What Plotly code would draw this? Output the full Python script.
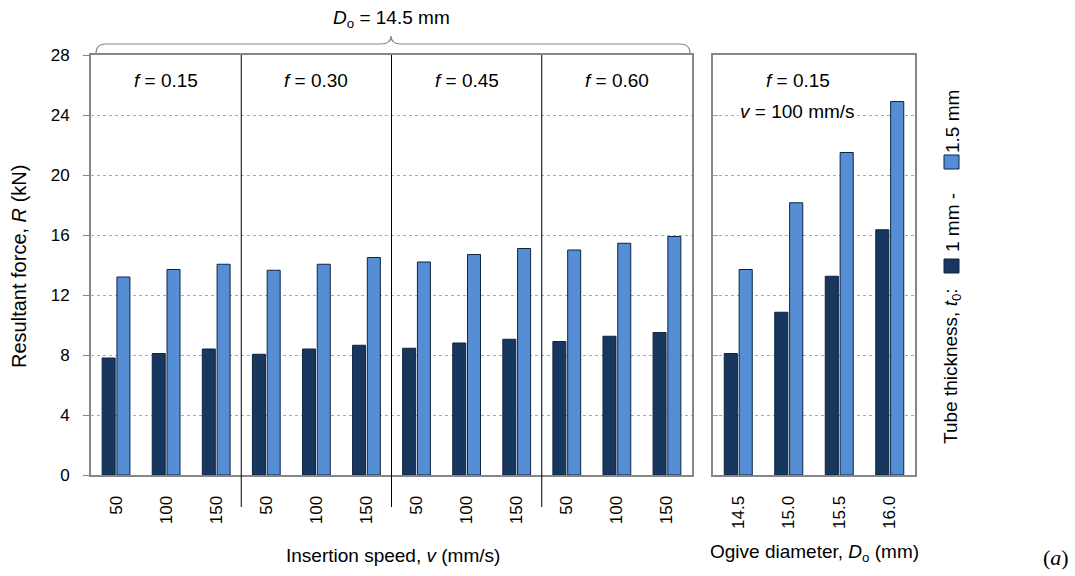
import plotly.graph_objects as go

# ---- data ----
speeds = ["50", "100", "150"]
frictions = ["0.15", "0.30", "0.45", "0.60"]
r_1mm_speed = [7.8, 8.1, 8.4, 8.05, 8.4, 8.65, 8.45, 8.8, 9.05, 8.9, 9.25, 9.5]
r_15mm_speed = [13.2, 13.7, 14.05, 13.65, 14.05, 14.5, 14.2, 14.7, 15.1, 15.0, 15.45, 15.9]

diameters = ["14.5", "15.0", "15.5", "16.0"]
r_1mm_diam = [8.1, 10.85, 13.25, 16.35]
r_15mm_diam = [13.7, 18.15, 21.5, 24.9]

DARK = "#17375E"
LIGHT = "#558ED5"
EDGE = "#0F2440"
AXIS = "#868686"
FONT = "Liberation Sans, Arial, sans-serif"

# plot area in pixels (1075x576 page)
L, R, T, B = 91, 915, 55, 475
W, H = R - L, B - T


def px(x):
    return (x - L) / W


def py(y):
    return (B - y) / H


speed_x = list(range(len(frictions) * len(speeds)))
diam_x = list(range(len(diameters)))

fig = go.Figure()

for vals, col, name in [(r_1mm_speed, DARK, "1 mm"), (r_15mm_speed, LIGHT, "1.5 mm")]:
    fig.add_trace(go.Bar(
        x=speed_x, y=vals, name=name, marker=dict(color=col, line=dict(color=EDGE, width=1)),
        xaxis="x", yaxis="y", showlegend=False,
    ))
for vals, col, name in [(r_1mm_diam, DARK, "1 mm"), (r_15mm_diam, LIGHT, "1.5 mm")]:
    fig.add_trace(go.Bar(
        x=diam_x, y=vals, name=name, marker=dict(color=col, line=dict(color=EDGE, width=1)),
        xaxis="x2", yaxis="y2", showlegend=False,
    ))

tickfont = dict(family=FONT, size=17, color="black")
common_x = dict(
    showline=True, linecolor=AXIS, linewidth=2, mirror=True, showgrid=False,
    zeroline=False, ticks="", tickangle=-90, tickfont=tickfont, ticklabelstandoff=12,
    automargin=False,
)
common_y = dict(
    range=[0, 28], dtick=4, showline=True, linecolor=AXIS, linewidth=2, mirror=True,
    showgrid=True, gridcolor="#ababab", griddash="dot", gridwidth=1, zeroline=False,
    automargin=False,
)

fig.update_layout(
    width=1075, height=576,
    margin=dict(l=L, r=1075 - R, t=T, b=576 - B, autoexpand=False),
    paper_bgcolor="white", plot_bgcolor="white",
    barmode="group", bargap=0.41, bargroupgap=0.12,
    font=dict(family=FONT, size=19, color="black"),
    xaxis=dict(
        domain=[0, px(692)], range=[-0.5, len(speed_x) - 0.5],
        tickvals=speed_x, ticktext=speeds * len(frictions), **common_x,
    ),
    xaxis2=dict(
        domain=[px(713), 1], range=[-0.5, len(diam_x) - 0.5],
        tickvals=diam_x, ticktext=diameters, anchor="y2", **common_x,
    ),
    yaxis=dict(
        ticks="outside", ticklen=6, tickcolor=AXIS, tickfont=tickfont,
        ticklabelstandoff=10, **common_y,
    ),
    yaxis2=dict(
        anchor="x2", showticklabels=False, ticks="inside", ticklen=5, tickcolor="#a0a0a0",
        **common_y,
    ),
)

# vertical dividers between friction groups
for i in range(1, len(frictions)):
    fig.add_shape(type="line", xref="x", yref="paper",
                  x0=i * len(speeds) - 0.5, x1=i * len(speeds) - 0.5,
                  y0=py(507), y1=1, line=dict(color="black", width=1))

# brace above the speed panel
brace = (
    f"M {px(96)},{py(53)} Q {px(96)},{py(44)} {px(106)},{py(44)} "
    f"L {px(381)},{py(44)} Q {px(391)},{py(44)} {px(391)},{py(36)} "
    f"Q {px(391)},{py(44)} {px(401)},{py(44)} "
    f"L {px(680)},{py(44)} Q {px(690)},{py(44)} {px(690)},{py(53)}"
)
fig.add_shape(type="path", xref="paper", yref="paper", path=brace,
              line=dict(color=AXIS, width=1.2))


def note(text, x, y, xref="paper", yref="paper", **kw):
    return dict(text=text, x=x, y=y, xref=xref, yref=yref, showarrow=False,
                xanchor="center", yanchor="middle", **kw)


ann = [note("<i>D</i><sub>o</sub> = 14.5 mm", px(391), py(19))]
for i, f in enumerate(frictions):
    ann.append(note(f"<i>f</i> = {f}", i * len(speeds) + 1, 26.3, xref="x", yref="y"))
ann.append(note("<i>f</i> = 0.15", 1.18, 26.3, xref="x2", yref="y"))
ann.append(note("<i>v</i> = 100 mm/s", 1.18, 24.25, xref="x2", yref="y", bgcolor="white"))

# axis titles
ann.append(note("Resultant force, <i>R</i> (kN)", px(19), py(267), textangle=-90,
                font=dict(size=20)))
ann.append(note("Insertion speed, <i>v</i> (mm/s)", px(393), py(555)))
ann.append(note("Ogive diameter, <i>D</i><sub>o</sub> (mm)", px(814), py(553)))
ann.append(note("(<i>a</i>)", px(1056), py(557),
                font=dict(family="Liberation Serif, Times New Roman, serif", size=22)))

# rotated legend
ann.append(note("Tube thickness, <i>t</i><sub>0</sub>:", px(952), py(366), textangle=-90))
ann.append(note("1 mm -", px(952), py(222), textangle=-90))
ann.append(note("1.5 mm", px(952), py(121), textangle=-90))
for (y0, y1), col in [((259, 273), DARK), ((155, 169), LIGHT)]:
    fig.add_shape(type="rect", xref="paper", yref="paper",
                  x0=px(944), x1=px(959), y0=py(y1), y1=py(y0),
                  fillcolor=col, line=dict(color=EDGE, width=1))

fig.update_layout(annotations=ann)

# page body has a default 8px margin; drop it so the figure sits at the window origin
fig.write_html("out.html", config={"displayModeBar": False},
               post_script="document.body.style.margin='0';")
